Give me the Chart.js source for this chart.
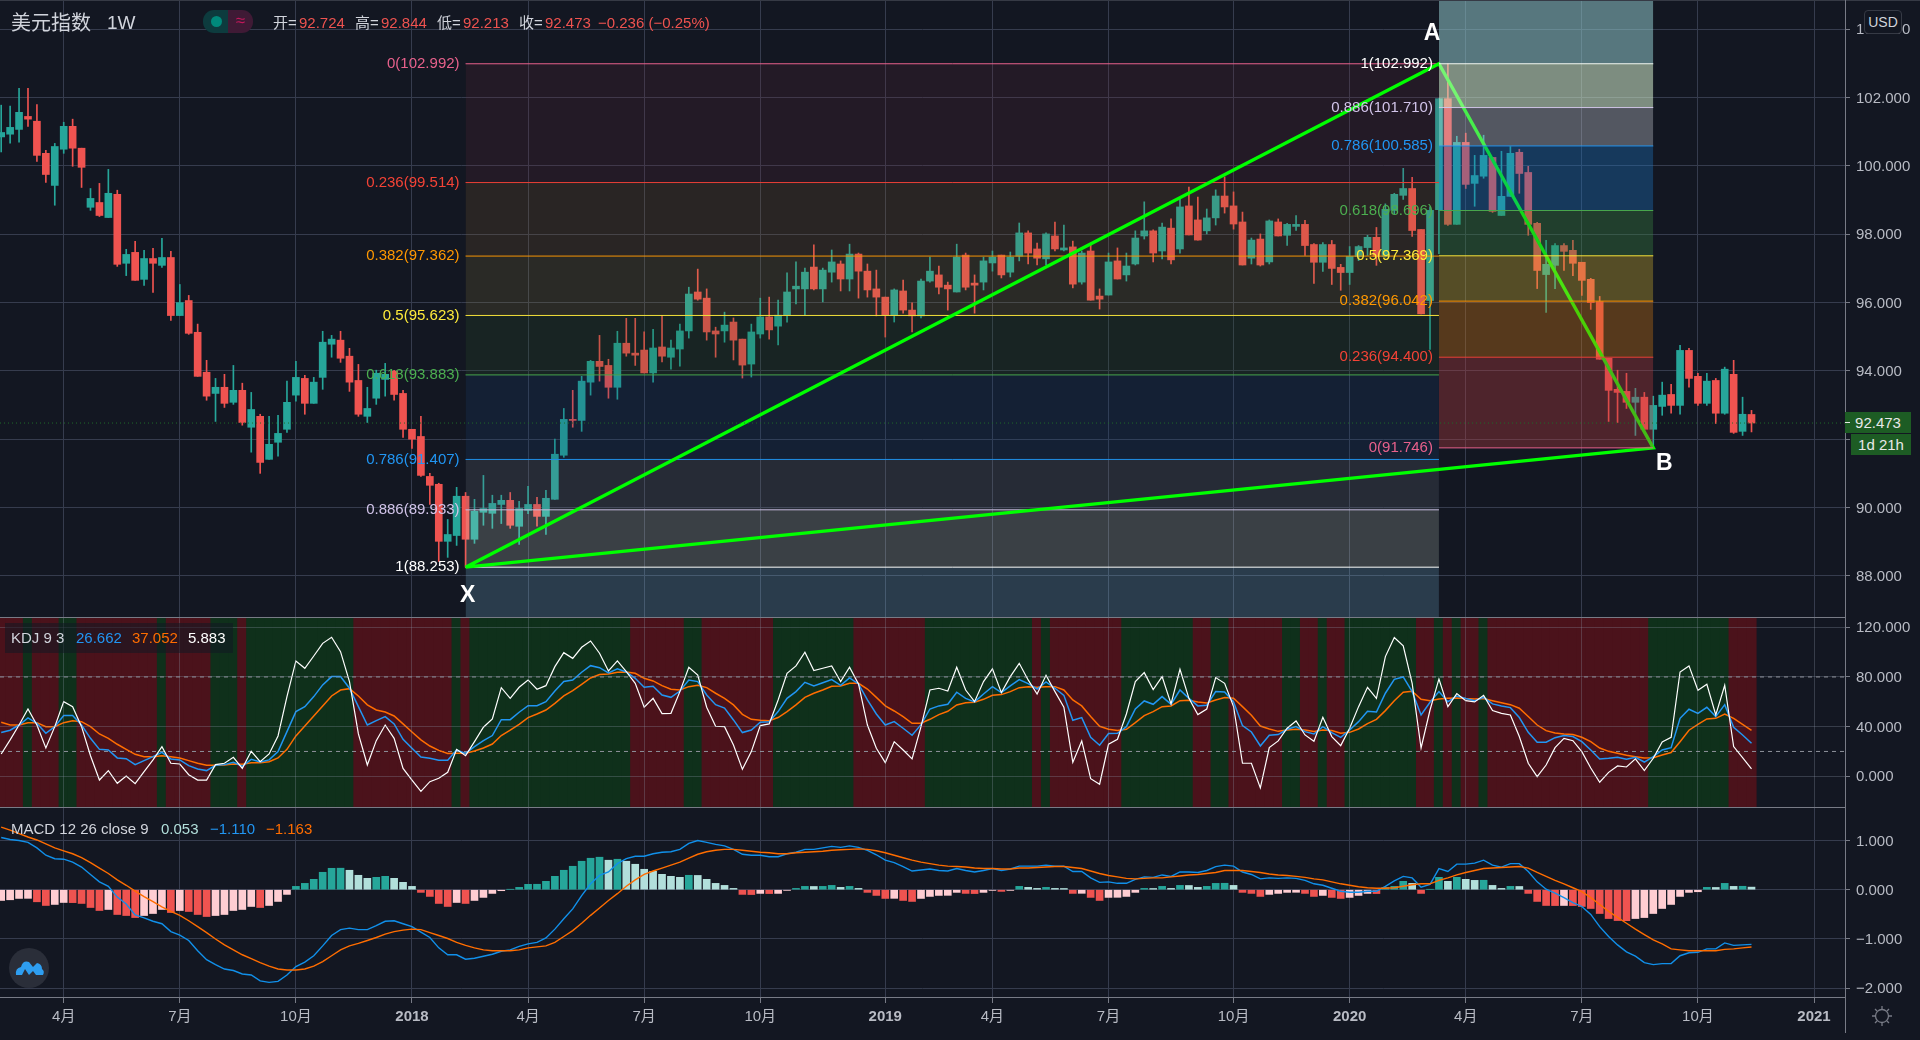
<!DOCTYPE html>
<html>
<head>
<meta charset="utf-8">
<title>美元指数 1W</title>
<script src="https://cdn.jsdelivr.net/npm/chart.js@4/dist/chart.umd.min.js"></script>
<style>
  html, body { margin: 0; padding: 0; background: #131722; width: 1920px; height: 1040px; overflow: hidden; }
  body { font-family: "Liberation Sans", "Noto Sans CJK SC", sans-serif; color: #d1d4dc; }
  canvas { position: absolute; left: 0; display: block; }
  #pane1 { top: 0; }
  #pane2 { top: 618px; }
  #pane3 { top: 808px; }
  .sep { position: absolute; left: 0; width: 1845px; height: 1px; background: #787b86; }
  .txt { position: absolute; white-space: nowrap; font-size: 15px; line-height: 18px; }
  .txt span { position: absolute; top: 0; }
  .red { color: #ef5350; }
  .blue { color: #2196f3; }
  .orange { color: #ff6d00; }
  .tag { position: absolute; background: #1d5c24; color: #e8e8e8; font-size: 15px; line-height: 21px; height: 21px; text-align: center; }
</style>
</head>
<body>
<canvas id="pane1" width="1920" height="618"></canvas>
<canvas id="pane2" width="1920" height="190"></canvas>
<canvas id="pane3" width="1920" height="232"></canvas>

<div class="sep" style="top:0;width:1920px;background:#363a45"></div>
<div class="sep" style="top:617px"></div>
<div class="sep" style="top:807px"></div>
<div class="sep" style="top:997px"></div>
<div class="sep" style="left:1845px;top:0;width:1px;height:1033px"></div>

<div class="txt" style="left:11px;top:11px;font-size:20px;line-height:24px">美元指数<span style="left:96px;font-size:19px">1W</span></div>
<div style="position:absolute;left:203px;top:10px;width:25px;height:23px;background:#0d3b3e;border-radius:11px 0 0 11px"></div>
<div style="position:absolute;left:228px;top:10px;width:25px;height:23px;background:#3f1a35;border-radius:0 11px 11px 0;color:#c2185b;font-size:17px;line-height:22px;text-align:center">≈</div>
<div style="position:absolute;left:211px;top:16px;width:11px;height:11px;border-radius:50%;background:#00897b"></div>
<div class="txt" style="left:273px;top:14px">
  <span style="left:0">开=</span><span class="red" style="left:26px">92.724</span>
  <span style="left:82px">高=</span><span class="red" style="left:108px">92.844</span>
  <span style="left:164px">低=</span><span class="red" style="left:190px">92.213</span>
  <span style="left:246px">收=</span><span class="red" style="left:272px">92.473</span>
  <span class="red" style="left:325px">−0.236 (−0.25%)</span>
</div>

<div style="position:absolute;left:5px;top:623px;width:228px;height:30px;background:rgba(19,23,34,.55)"></div>
<div class="txt" style="left:11px;top:629px">KDJ 9 3
  <span class="blue" style="left:65px">26.662</span>
  <span class="orange" style="left:121px">37.052</span>
  <span style="left:177px;color:#fff">5.883</span>
</div>
<div class="txt" style="left:11px;top:820px">MACD 12 26 close 9
  <span style="left:150px;color:#b2dfdb">0.053</span>
  <span class="blue" style="left:199px">−1.110</span>
  <span class="orange" style="left:255px">−1.163</span>
</div>

<div style="position:absolute;left:1864px;top:10px;width:36px;height:22px;background:#131722;border:1px solid #363a45;border-radius:4px;font-size:14px;line-height:22px;text-align:center">USD</div>
<div class="tag" style="left:1845px;top:412px;width:66px">92.473</div>
<div style="position:absolute;left:1845px;top:422px;width:5px;height:1px;background:#e8e8e8"></div>
<div class="tag" style="left:1851px;top:434px;width:60px">1d 21h</div>

<svg style="position:absolute;left:9px;top:948px" width="40" height="40" viewBox="0 0 40 40">
  <circle cx="20" cy="20" r="20" fill="#2a2e39"/>
  <path d="M7 27 Q6 20 12 19 Q14 12 20 14 L24 19 L28 15 Q33 16 33 21 Q36 23 34 27 L27 27 L24 23 L20 27 L16 21 L13 27 Z" fill="#2e9ef0"/>
</svg>
<svg style="position:absolute;left:1871px;top:1005px" width="22" height="22" viewBox="0 0 22 22" fill="none" stroke="#787b86" stroke-width="1.3">
  <circle cx="11" cy="11" r="6.5"/>
  <path d="M11 1v3M11 18v3M1 11h3M18 11h3M4 4l2 2M16 16l2 2M4 18l2-2M16 6l2-2"/>
</svg>

<script>
// weekly bars, oldest first
const opens = [
  100.85,100.93,101.07,101.45,101.31,100.37,99.43,100.49,101.16,100.52,
  98.79,98.93,98.49,99.17,97.15,97.47,96.68,97.29,97.09,97.32,
  95.62,96.06,95.13,93.96,93.34,93.52,93.08,93.43,92.35,92.67,
  91.41,91.91,92.29,93.29,93.78,93.05,93.81,94.78,94.90,94.43,
  93.72,92.67,93.20,93.75,93.99,93.34,92.29,92.08,90.91,90.68,
  89.01,89.18,90.33,89.07,89.86,89.83,90.09,90.21,89.45,89.92,
  90.09,89.74,90.24,91.53,92.58,92.55,93.67,94.28,94.16,93.52,
  94.81,94.52,94.61,93.94,94.70,94.40,94.64,95.17,96.31,96.13,
  95.17,95.17,95.43,94.93,94.20,95.08,95.58,95.31,95.63,96.40,
  96.40,97.04,96.40,96.89,97.13,96.69,97.42,96.92,96.40,96.16,
  95.63,96.34,95.78,95.61,96.63,96.81,96.51,96.31,97.39,96.57,
  96.60,97.16,97.39,96.89,97.36,98.04,97.57,97.28,97.95,97.54,
  97.63,96.60,97.51,96.19,96.22,97.22,96.81,97.13,97.95,98.10,
  97.51,98.18,97.57,98.83,98.42,98.10,98.48,99.12,98.83,98.36,
  97.30,97.86,97.19,98.36,97.97,98.23,98.29,97.70,97.18,97.70,
  97.03,96.88,97.35,97.61,97.91,97.35,98.70,99.14,99.34,98.14,
  96.06,98.72,101.97,98.29,100.69,99.49,99.70,100.25,98.55,99.11,
  100.40,99.81,98.32,96.82,97.09,97.67,97.53,97.18,96.68,96.03,
  94.37,93.46,93.40,93.08,93.23,92.29,92.96,93.31,92.99,94.60,
  93.84,93.05,93.72,92.76,93.90,92.23,92.724
];
const closes = [
  100.98,101.13,101.57,101.37,100.31,99.75,100.57,101.16,100.52,99.96,
  99.05,98.55,99.20,97.12,97.41,96.65,97.29,97.15,97.32,95.62,
  96.00,95.10,93.84,93.26,93.52,93.05,93.43,92.49,92.87,91.32,
  91.85,92.17,93.08,93.81,93.05,93.67,94.84,94.93,94.37,93.67,
  92.73,92.90,93.93,93.90,93.31,92.29,92.00,90.94,90.65,89.01,
  89.21,90.33,89.07,89.89,89.97,90.12,90.21,89.48,89.97,90.09,
  89.74,90.27,91.56,92.58,92.55,93.70,94.28,94.13,93.52,94.81,
  94.52,94.46,93.94,94.67,94.43,94.67,95.17,96.25,96.10,95.14,
  95.08,95.34,94.90,94.17,95.14,95.58,95.20,95.63,96.31,96.48,
  96.89,96.40,96.95,97.19,96.69,97.42,96.92,96.37,96.16,95.63,
  96.37,95.78,95.61,96.63,96.92,96.45,96.40,97.33,96.45,96.51,
  97.22,97.33,96.81,97.33,98.04,97.45,97.30,98.01,97.57,97.60,
  96.54,97.45,96.07,96.10,97.19,96.69,97.07,97.89,98.10,97.45,
  98.21,97.25,98.80,97.98,97.83,98.48,99.12,98.80,98.30,97.10,
  97.83,97.10,98.39,97.95,98.29,98.29,97.67,97.18,97.70,97.00,
  96.88,97.35,97.64,97.91,97.35,98.73,99.17,99.34,98.11,95.67,
  98.70,101.97,98.29,100.69,99.46,99.72,100.31,98.67,99.11,100.37,
  99.78,98.29,96.94,97.12,97.67,97.50,97.15,96.65,96.00,94.34,
  93.43,93.37,93.08,93.23,92.29,92.99,93.29,92.99,94.60,93.78,
  93.05,93.70,92.76,94.05,92.20,92.73,92.473
];
const highs = [
  101.78,101.75,102.27,102.27,101.80,100.46,100.66,101.28,101.37,100.52,
  99.34,99.49,99.90,99.29,97.56,97.79,97.53,97.59,97.88,97.50,
  96.53,96.21,95.37,94.31,93.78,93.90,94.16,93.64,93.37,92.73,
  92.67,92.70,93.70,94.28,93.87,93.81,95.16,95.04,95.16,94.66,
  94.19,93.52,94.02,94.22,94.02,93.43,92.29,92.67,91.00,90.71,
  89.65,90.59,90.44,90.24,90.94,90.36,90.36,90.44,90.18,90.62,
  90.30,90.50,92.00,92.90,93.43,93.84,94.31,95.04,94.34,95.16,
  95.54,95.54,95.14,95.22,95.63,94.90,95.37,96.45,96.98,96.40,
  95.28,95.72,95.55,94.93,95.37,96.13,96.16,96.07,96.87,97.19,
  97.01,97.69,97.01,97.54,97.22,97.71,97.45,97.13,96.95,96.16,
  96.40,96.66,95.99,96.69,97.33,97.07,96.60,97.71,97.45,96.81,
  97.33,97.51,97.39,97.48,98.33,98.10,97.74,98.04,98.36,98.27,
  97.80,97.51,97.69,96.40,97.45,97.60,97.45,98.10,98.95,98.13,
  98.33,98.45,99.03,99.38,99.09,98.74,99.30,99.68,99.24,98.65,
  97.89,98.01,98.42,98.45,98.32,98.55,98.41,97.73,97.76,97.82,
  97.12,97.64,97.67,97.97,98.20,98.89,99.20,99.93,99.67,98.14,
  98.80,101.97,102.992,100.87,100.96,100.31,100.90,100.25,100.43,100.57,
  100.49,99.99,98.35,97.82,97.73,97.73,97.82,97.18,96.71,96.18,
  94.37,94.02,93.93,93.49,93.37,93.26,93.67,93.61,94.75,94.66,
  93.93,93.93,93.78,94.11,94.31,93.23,92.844
];
const lows = [
  100.41,100.67,100.70,101.16,100.13,99.52,98.85,100.37,99.99,99.37,
  98.70,98.52,98.49,97.06,96.79,96.65,96.50,96.30,97.03,95.48,
  95.62,95.07,93.84,93.14,92.52,92.93,93.02,92.41,91.62,91.00,
  91.41,91.50,92.20,93.11,92.73,93.05,93.46,94.40,94.25,93.40,
  92.67,92.49,93.02,93.26,93.14,92.05,91.73,90.91,90.09,88.42,
  88.54,88.89,88.253,88.95,89.48,89.39,89.53,89.39,88.92,89.82,
  89.45,89.21,90.24,91.47,92.35,92.23,93.29,93.70,93.20,93.17,
  94.43,94.16,93.94,93.67,94.26,94.05,94.14,94.96,96.07,94.90,
  94.40,94.84,94.32,93.79,93.82,94.96,94.93,94.76,95.43,95.96,
  95.63,96.37,96.02,96.60,96.34,96.34,96.13,96.16,95.61,94.99,
  95.43,95.69,95.14,95.55,96.60,96.25,95.78,96.31,96.37,95.69,
  96.37,96.92,96.72,96.75,97.22,97.13,97.10,97.10,97.51,97.51,
  96.43,96.54,96.07,95.81,96.22,96.69,96.63,97.10,97.86,97.19,
  97.28,97.13,97.45,97.98,97.83,98.01,98.27,98.62,98.15,97.10,
  97.13,97.07,97.13,97.95,97.67,98.11,97.38,96.56,96.91,96.53,
  96.36,96.53,97.23,97.38,97.09,97.33,98.60,99.02,97.94,95.67,
  94.63,97.43,98.26,98.29,99.34,98.82,99.64,98.64,98.55,99.11,
  99.20,97.97,96.41,95.71,96.41,96.94,96.79,96.21,95.80,94.34,
  92.52,92.49,92.90,92.11,92.29,91.746,92.70,92.76,92.73,93.52,
  92.99,92.99,92.46,92.73,92.17,92.11,92.213
];

const kdjK = [
  35.2,37.1,41.3,47.0,42.7,34.6,40.0,48.9,48.9,41.3,30.6,21.7,21.2,14.8,14.2,9.4,12.6,15.8,19.3,14.0,
  13.2,8.6,5.9,4.6,8.9,9.4,11.3,8.1,13.7,11.5,13.2,19.9,36.0,52.1,56.1,64.2,73.6,80.3,80.3,70.9,
  56.1,41.3,44.8,48.1,42.2,29.8,22.6,15.6,14.5,12.9,12.9,21.2,18.5,23.9,28.7,32.8,45.6,45.6,51.6,56.9,
  56.9,60.1,68.7,76.3,77.6,83.8,89.1,87.5,83.2,86.5,84.0,78.9,71.7,72.5,65.5,63.6,68.7,77.6,76.3,65.5,
  57.7,55.0,45.4,35.2,37.3,43.5,44.0,52.1,62.8,68.2,75.7,72.8,75.4,77.9,73.3,79.2,74.4,61.5,50.2,41.3,
  44.0,38.7,33.0,41.6,54.2,56.7,58.0,67.7,62.8,59.9,66.3,72.2,67.4,72.8,77.9,74.6,70.3,76.0,70.9,65.2,
  45.1,47.3,31.4,25.0,34.4,34.6,40.0,54.2,60.7,58.0,64.2,58.0,69.5,62.8,56.7,57.2,68.2,67.9,59.9,40.8,
  35.7,24.4,33.0,33.6,37.9,40.0,36.0,34.1,40.0,35.2,31.4,37.3,44.0,52.4,51.8,66.9,78.1,80.0,68.2,49.4,
  59.6,68.2,60.1,64.7,62.6,60.9,63.6,58.3,56.7,55.3,47.3,35.4,27.4,27.4,31.1,32.8,32.0,27.9,21.2,14.0,
  14.5,15.3,13.7,15.3,11.5,15.8,21.2,23.1,46.7,54.0,50.7,55.6,48.1,57.7,39.5,33.3,26.662
];
const kdjD = [
  43.5,41.3,41.3,43.2,43.2,40.0,40.0,43.2,44.8,44.0,40.0,34.1,30.6,25.8,21.7,17.7,15.8,15.8,16.6,15.8,
  14.8,12.6,10.5,8.9,8.9,9.1,9.9,9.7,11.0,11.0,11.8,14.8,21.7,32.5,40.5,48.6,56.7,64.7,69.5,70.6,
  64.7,57.5,53.4,51.8,48.6,42.2,35.7,29.3,24.4,20.9,18.3,18.5,18.5,20.4,22.8,26.0,32.8,37.1,41.9,47.3,
  50.2,53.4,58.8,64.7,69.0,74.1,79.2,81.9,82.4,83.8,84.0,83.0,78.9,76.8,73.0,70.1,69.5,72.2,73.3,71.4,
  66.9,62.8,57.5,49.9,45.9,45.1,44.8,47.3,52.1,57.5,63.6,66.9,69.5,72.5,72.8,74.9,74.9,70.3,63.6,56.7,
  52.6,48.1,42.7,42.7,45.9,49.7,52.4,57.5,59.3,59.6,62.0,65.2,65.8,68.2,71.4,72.2,71.7,72.2,72.2,69.5,
  61.5,56.7,48.1,40.3,37.9,36.8,37.9,43.2,48.9,52.1,56.1,56.7,60.9,61.2,59.9,59.1,61.5,63.4,62.8,56.1,
  49.1,40.5,38.1,36.2,37.3,37.9,37.3,36.0,37.3,36.8,34.6,35.4,38.1,42.4,45.9,52.9,60.9,67.7,68.5,62.0,
  60.9,62.3,62.8,63.1,62.6,62.3,62.6,60.9,59.3,57.7,54.8,48.1,41.3,36.8,34.9,34.1,33.6,31.4,27.9,22.8,
  20.1,18.5,16.9,15.8,14.8,15.0,17.2,19.1,27.9,37.1,41.9,46.2,46.7,50.2,46.7,41.9,37.052
];
const kdjJ = [
  18.0,29.3,41.3,54.2,41.3,22.8,40.0,60.1,56.1,40.0,16.6,-3.0,4.6,-5.6,0.3,-5.9,3.8,13.2,23.9,10.5,
  9.9,1.3,-3.0,-3.0,9.4,10.5,15.3,6.4,20.1,11.8,18.0,32.5,64.2,92.9,87.0,96.9,107.1,112.0,100.4,76.3,
  34.1,9.1,28.7,41.3,30.6,6.4,-3.0,-12.1,-4.3,-1.6,3.2,21.7,16.6,27.9,39.5,46.2,71.4,62.8,71.7,77.6,
  70.1,73.0,88.3,99.6,95.0,103.9,109.0,99.1,84.8,92.9,84.3,74.9,55.6,62.8,50.5,50.7,68.2,87.8,81.6,55.6,
  40.3,40.0,25.2,5.6,19.9,40.8,42.2,61.5,83.0,88.9,99.9,85.1,87.0,88.9,76.3,87.8,74.4,41.3,22.6,11.0,
  27.9,21.2,14.0,40.0,69.5,70.9,68.7,87.8,69.5,60.1,76.3,86.5,67.4,80.3,91.0,77.6,66.3,81.4,68.2,55.6,
  11.3,28.5,-1.9,-6.4,25.8,29.8,50.2,76.3,83.5,69.8,80.3,58.3,86.2,62.8,49.7,54.2,79.5,74.9,56.1,10.5,
  10.5,-9.4,23.1,28.5,38.7,44.6,33.3,28.2,47.5,32.0,24.7,38.7,56.1,71.7,62.8,96.4,111.7,105.0,74.9,22.8,
  53.4,78.4,56.1,66.6,60.9,59.9,65.2,52.9,50.7,49.4,32.0,10.5,-0.3,9.1,23.1,30.6,28.7,19.9,6.7,-4.8,
  3.2,8.3,7.5,14.0,4.6,14.5,27.7,31.4,84.0,88.9,69.3,74.1,49.4,73.3,23.9,15.0,5.883
];
// first and last bar of every stretch where K stays above D
const kdjGreenRuns = [[3,3],[7,8],[18,18],[24,26],[28,39],[51,51],[53,70],[77,78],[87,95],[104,115],[117,117],[126,133],[136,137],[144,145],[148,148],[151,158],[161,161],[163,163],[166,166],[185,193]];
const kdjGuides = [80, 20];

const macdLine = [
  1.06,1.02,1.00,0.96,0.85,0.70,0.63,0.62,0.56,0.46,0.31,0.16,0.07,-0.15,-0.29,-0.51,-0.57,-0.64,-0.69,-0.85,
  -0.92,-1.03,-1.24,-1.42,-1.52,-1.61,-1.64,-1.71,-1.73,-1.85,-1.88,-1.86,-1.73,-1.56,-1.47,-1.34,-1.14,-0.93,-0.81,-0.78,
  -0.81,-0.81,-0.73,-0.64,-0.63,-0.69,-0.75,-0.86,-0.97,-1.18,-1.32,-1.32,-1.41,-1.39,-1.35,-1.31,-1.25,-1.22,-1.15,-1.10,
  -1.07,-0.98,-0.80,-0.59,-0.39,-0.12,0.12,0.29,0.36,0.53,0.63,0.68,0.68,0.73,0.76,0.77,0.82,0.94,1.00,0.96,
  0.92,0.89,0.82,0.72,0.70,0.70,0.67,0.67,0.73,0.76,0.82,0.82,0.85,0.88,0.86,0.89,0.86,0.80,0.71,0.60,
  0.55,0.47,0.38,0.40,0.42,0.39,0.38,0.43,0.39,0.36,0.39,0.43,0.39,0.42,0.48,0.48,0.48,0.50,0.48,0.48,
  0.37,0.37,0.24,0.15,0.16,0.13,0.13,0.21,0.26,0.25,0.30,0.27,0.36,0.36,0.35,0.39,0.47,0.50,0.48,0.36,
  0.31,0.22,0.24,0.23,0.24,0.23,0.19,0.12,0.09,0.03,-0.03,-0.05,-0.05,-0.03,-0.03,0.07,0.18,0.27,0.24,0.05,
  0.11,0.43,0.37,0.52,0.52,0.54,0.60,0.50,0.46,0.53,0.53,0.37,0.16,0.01,-0.07,-0.16,-0.26,-0.34,-0.50,-0.75,
  -0.95,-1.12,-1.26,-1.35,-1.48,-1.52,-1.50,-1.50,-1.34,-1.28,-1.27,-1.20,-1.20,-1.08,-1.13,-1.12,-1.11
];
const macdSignal = [
  1.27,1.21,1.14,1.07,1.01,0.93,0.85,0.79,0.73,0.65,0.55,0.44,0.33,0.20,0.09,-0.03,-0.14,-0.24,-0.35,-0.44,
  -0.52,-0.63,-0.75,-0.87,-1.00,-1.12,-1.22,-1.32,-1.40,-1.48,-1.55,-1.61,-1.63,-1.63,-1.61,-1.55,-1.46,-1.34,-1.22,-1.14,
  -1.09,-1.03,-0.97,-0.90,-0.85,-0.82,-0.80,-0.81,-0.87,-0.93,-0.99,-1.07,-1.13,-1.18,-1.22,-1.24,-1.24,-1.24,-1.22,-1.18,
  -1.16,-1.14,-1.07,-0.95,-0.83,-0.68,-0.52,-0.37,-0.22,-0.08,0.07,0.20,0.31,0.38,0.44,0.50,0.56,0.64,0.72,0.77,
  0.80,0.82,0.82,0.80,0.78,0.76,0.75,0.73,0.73,0.75,0.76,0.77,0.78,0.80,0.81,0.82,0.83,0.82,0.79,0.75,
  0.70,0.65,0.60,0.56,0.53,0.50,0.48,0.47,0.46,0.44,0.43,0.43,0.42,0.42,0.44,0.44,0.45,0.46,0.47,0.47,
  0.45,0.43,0.38,0.33,0.29,0.26,0.23,0.22,0.23,0.24,0.24,0.26,0.28,0.30,0.31,0.33,0.35,0.39,0.39,0.39,
  0.37,0.35,0.32,0.30,0.29,0.27,0.25,0.22,0.20,0.16,0.12,0.09,0.06,0.04,0.03,0.03,0.04,0.07,0.10,0.12,
  0.12,0.19,0.24,0.30,0.35,0.39,0.43,0.44,0.45,0.46,0.47,0.44,0.35,0.27,0.19,0.12,0.04,-0.04,-0.16,-0.30,
  -0.44,-0.56,-0.68,-0.80,-0.91,-1.02,-1.10,-1.20,-1.22,-1.24,-1.24,-1.24,-1.24,-1.21,-1.20,-1.18,-1.163
];
const macdHist = [
  -0.218,-0.204,-0.177,-0.175,-0.245,-0.320,-0.299,-0.259,-0.262,-0.279,-0.361,-0.422,-0.401,-0.503,-0.524,-0.565,-0.524,-0.483,-0.401,-0.463,
  -0.422,-0.442,-0.503,-0.544,-0.524,-0.503,-0.422,-0.401,-0.340,-0.361,-0.320,-0.238,-0.095,0.068,0.129,0.211,0.354,0.435,0.437,0.395,
  0.293,0.231,0.252,0.272,0.231,0.150,0.068,-0.054,-0.136,-0.279,-0.340,-0.259,-0.279,-0.218,-0.156,-0.075,-0.020,0.007,0.048,0.109,
  0.111,0.170,0.272,0.395,0.476,0.578,0.639,0.660,0.599,0.619,0.578,0.517,0.415,0.374,0.313,0.272,0.252,0.293,0.290,0.211,
  0.129,0.088,0.027,-0.095,-0.098,-0.075,-0.078,-0.075,-0.014,0.027,0.068,0.066,0.068,0.088,0.048,0.068,0.027,-0.054,-0.116,-0.177,
  -0.175,-0.218,-0.238,-0.177,-0.136,-0.116,-0.114,-0.054,-0.075,-0.078,-0.054,-0.014,-0.034,-0.014,0.068,0.048,0.027,0.048,0.027,0.025,
  -0.075,-0.073,-0.156,-0.218,-0.156,-0.154,-0.136,-0.054,0.027,0.025,0.068,0.027,0.088,0.086,0.048,0.068,0.129,0.131,0.088,-0.054,
  -0.075,-0.136,-0.095,-0.075,-0.054,-0.052,-0.075,-0.136,-0.116,-0.156,-0.177,-0.156,-0.116,-0.075,-0.078,0.048,0.068,0.170,0.129,-0.075,
  0.007,0.252,0.170,0.252,0.211,0.190,0.192,0.088,0.027,0.068,0.066,-0.075,-0.238,-0.320,-0.322,-0.320,-0.322,-0.340,-0.381,-0.483,
  -0.585,-0.626,-0.628,-0.585,-0.565,-0.483,-0.381,-0.299,-0.136,-0.054,-0.041,0.048,0.046,0.129,0.068,0.070,0.053
];

// x axis: bar index of each labelled month
const timeTickBars = [7,20,33,46,59,72,85,99,111,124,138,151,164,177,190,203];
const timeTickLabels = ['4月','7月','10月','2018','4月','7月','10月','2019','4月','7月','10月','2020','4月','7月','10月','2021'];
const priceTicks = [88,90,92,94,96,98,100,102,104];
const kdjTicks = [0,40,80,120];
const macdTicks = [-2,-1,0,1];

// fibonacci retracements
const fibRatios = ['0','0.236','0.382','0.5','0.618','0.786','0.886','1'];
const leftFibPrices = [102.992,99.514,97.362,95.623,93.883,91.407,89.933,88.253];
const rightFibPrices = [91.746,94.400,96.042,97.369,98.696,100.585,101.710,102.992];
const xabBars = [52,161,185,52];
const xabPrices = [88.253,102.992,91.746,88.253];
const xabNames = ['X','A','B'];
const lastPrice = 92.473;

const fibLineColors = ['#e8618c','#f44336','#ff9800','#ffeb3b','#4caf50','#2196f3','#d1c4e9','#ffffff'];
const leftFibFills = ['rgba(120,40,62,.17)','rgba(144,103,49,.18)','rgba(149,133,59,.18)','rgba(44,88,39,.2)','rgba(24,68,124,.2)','rgba(114,123,134,.2)','rgba(229,243,224,.19)','rgba(134,208,244,.2)'];
const rightFibFills = ['rgba(190,60,63,.35)','rgba(213,120,17,.35)','rgba(208,177,45,.35)','rgba(59,137,65,.35)','rgba(28,120,200,.35)','rgba(202,206,214,.35)','rgba(214,238,205,.55)','rgba(143,198,203,.55)'];

const UP = '#26a69a', DOWN = '#ef5350';
const GRID = '#363c4e', BAND_GRID = 'rgba(140,150,170,.3)', AXIS = '#787b86', TEXT = '#b8bbc4';
const FONT = '"Liberation Sans","Noto Sans CJK SC",sans-serif';
const xMin = -0.134, xMax = 206.47;
const priceMin = 86.765, priceMax = 104.859;
const kdjMin = -25.53, kdjMax = 127.49;
const macdMin = -2.198, macdMax = 1.659;

const isGreenBar = i => kdjGreenRuns.some(r => i >= r[0] && i <= r[1]);
const xy = (arr) => arr.map((v, i) => ({ x: i, y: v }));
const minusSign = s => s.replace('-', '−');

function histColor(i) {
  const v = macdHist[i], prev = i > 0 ? macdHist[i - 1] : v;
  if (v >= 0) return v > prev ? UP : '#b2dfdb';
  return v < prev ? DOWN : '#ffcdd2';
}

function yAxis(min, max, ticks, format, gridColor, gridZ) {
  return {
    type: 'linear', position: 'right', min: min, max: max,
    grid: { color: gridColor, z: gridZ, tickColor: AXIS, tickLength: 5, lineWidth: 1 },
    border: { display: false },
    ticks: { color: TEXT, font: { family: FONT, size: 15 }, padding: 6, labelOffset: 1, crossAlign: 'near', callback: format },
    afterBuildTicks: s => { s.ticks = ticks.map(v => ({ value: v })); },
    afterFit: s => { s.width = 75; s.paddingTop = 0; s.paddingBottom = 0; }
  };
}

function xAxis(showLabels, gridColor, gridZ) {
  return {
    type: 'linear', min: xMin, max: xMax, offset: false,
    grid: { color: gridColor, z: gridZ, offset: false, drawTicks: showLabels, tickColor: AXIS, tickLength: 5 },
    border: { display: false },
    ticks: {
      display: showLabels, autoSkip: false, maxRotation: 0, color: TEXT, padding: 5,
      font: c => ({ family: FONT, size: 15, weight: /^\d{4}$/.test(timeTickLabels[timeTickBars.indexOf(c.tick && c.tick.value)]) ? 'bold' : 'normal' }),
      callback: v => timeTickLabels[timeTickBars.indexOf(v)]
    },
    afterBuildTicks: s => { s.ticks = timeTickBars.map(v => ({ value: v })); },
    afterFit: s => { s.height = showLabels ? 42 : 0; s.paddingLeft = 0; s.paddingRight = 0; }
  };
}

const baseOptions = {
  responsive: false, animation: false, events: [],
  layout: { padding: 0 },
  plugins: { legend: { display: false }, tooltip: { enabled: false }, filler: { drawTime: 'beforeDatasetDraw' } }
};

function levelDatasets(prices, startBar, endBar, fills, edgePrice, order) {
  return prices.map((p, k) => ({
    type: 'line', order: order,
    data: [{ x: startBar, y: p }, { x: endBar, y: p }],
    borderColor: fibLineColors[k], borderWidth: 1, pointRadius: 0,
    backgroundColor: fills[k],
    fill: { value: k < prices.length - 1 ? prices[k + 1] : edgePrice }
  }));
}

// text of the fib levels and of the X A B points, placed through the scales
const priceLabels = {
  id: 'priceLabels',
  afterDatasetsDraw(chart) {
    const { ctx, scales } = chart;
    ctx.save();
    ctx.textBaseline = 'middle';
    ctx.textAlign = 'right';
    ctx.font = '15px ' + FONT;
    [[leftFibPrices, 52], [rightFibPrices, 161]].forEach(([prices, bar]) => {
      prices.forEach((p, k) => {
        ctx.fillStyle = fibLineColors[k];
        ctx.fillText(fibRatios[k] + '(' + p.toFixed(3) + ')', scales.x.getPixelForValue(bar) - 6, scales.y.getPixelForValue(p));
      });
    });
    ctx.font = 'bold 23px ' + FONT;
    ctx.fillStyle = '#ffffff';
    ctx.textAlign = 'center';
    [[0, 2, 28], [1, -7, -30], [2, 11, 16]].forEach(([k, dx, dy]) => {
      ctx.fillText(xabNames[k], scales.x.getPixelForValue(xabBars[k]) + dx, scales.y.getPixelForValue(xabPrices[k]) + dy);
    });
    ctx.restore();
  }
};

new Chart(document.getElementById('pane1'), {
  type: 'bar',
  plugins: [priceLabels],
  data: {
    datasets: [
      { type: 'bar', order: 9, grouped: false, barThickness: 1, data: lows.map((l, i) => ({ x: i, y: [l, highs[i]] })),
        backgroundColor: lows.map((l, i) => closes[i] >= opens[i] ? UP : DOWN) },
      { type: 'bar', order: 8, grouped: false, barThickness: 7, data: opens.map((o, i) => ({ x: i, y: [o, closes[i]] })),
        backgroundColor: opens.map((o, i) => closes[i] >= o ? UP : DOWN) },
      ...levelDatasets(leftFibPrices, 52, 161, leftFibFills, priceMin, 6),
      { type: 'line', order: 4, data: xabBars.map((b, i) => ({ x: b, y: xabPrices[i] })), borderColor: '#00ff00', borderWidth: 3.4, pointRadius: 0, fill: false },
      ...levelDatasets(rightFibPrices, 161, 185, rightFibFills, priceMax, 3),
      { type: 'line', order: 1, data: [{ x: xMin, y: lastPrice }, { x: xMax, y: lastPrice }], borderColor: '#1f6b2a', borderWidth: 1, borderDash: [1, 3], pointRadius: 0, fill: false }
    ]
  },
  options: Object.assign({}, baseOptions, {
    scales: { x: xAxis(false, GRID, 0), y: yAxis(priceMin, priceMax, priceTicks, v => v.toFixed(3), GRID, 0) }
  })
});

new Chart(document.getElementById('pane2'), {
  type: 'bar',
  data: {
    datasets: [
      { type: 'line', order: 1, data: xy(kdjJ), borderColor: '#ffffff', borderWidth: 1.2, pointRadius: 0, fill: false },
      { type: 'line', order: 2, data: xy(kdjK), borderColor: '#2196f3', borderWidth: 1.5, pointRadius: 0, fill: false },
      { type: 'line', order: 3, data: xy(kdjD), borderColor: '#ff6d00', borderWidth: 1.5, pointRadius: 0, fill: false },
      ...kdjGuides.map(g => ({ type: 'line', order: 4, data: [{ x: xMin, y: g }, { x: xMax, y: g }], borderColor: '#8f929b', borderWidth: 1, borderDash: [4, 4], pointRadius: 0, fill: false })),
      { type: 'bar', order: 9, grouped: false, barThickness: 9.5, data: kdjJ.map((v, i) => ({ x: i, y: [kdjMin, kdjMax] })),
        backgroundColor: kdjJ.map((v, i) => isGreenBar(i) ? '#0f301b' : '#4b121b') }
    ]
  },
  options: Object.assign({}, baseOptions, {
    scales: {
      // grid of the KDJ pane sits above the coloured bands
      x: xAxis(false, BAND_GRID, 1),
      y: yAxis(kdjMin, kdjMax, kdjTicks, v => minusSign(v.toFixed(3)), BAND_GRID, 1)
    }
  })
});

new Chart(document.getElementById('pane3'), {
  type: 'bar',
  data: {
    datasets: [
      { type: 'line', order: 1, data: xy(macdSignal), borderColor: '#ff6d00', borderWidth: 1.4, pointRadius: 0, fill: false },
      { type: 'line', order: 2, data: xy(macdLine), borderColor: '#1190ea', borderWidth: 1.4, pointRadius: 0, fill: false },
      { type: 'bar', order: 9, grouped: false, barThickness: 7, data: xy(macdHist), backgroundColor: macdHist.map((v, i) => histColor(i)) }
    ]
  },
  options: Object.assign({}, baseOptions, {
    scales: { x: xAxis(true, GRID, 0), y: yAxis(macdMin, macdMax, macdTicks, v => minusSign(v.toFixed(3)), GRID, 0) }
  })
});
</script>
</body>
</html>
